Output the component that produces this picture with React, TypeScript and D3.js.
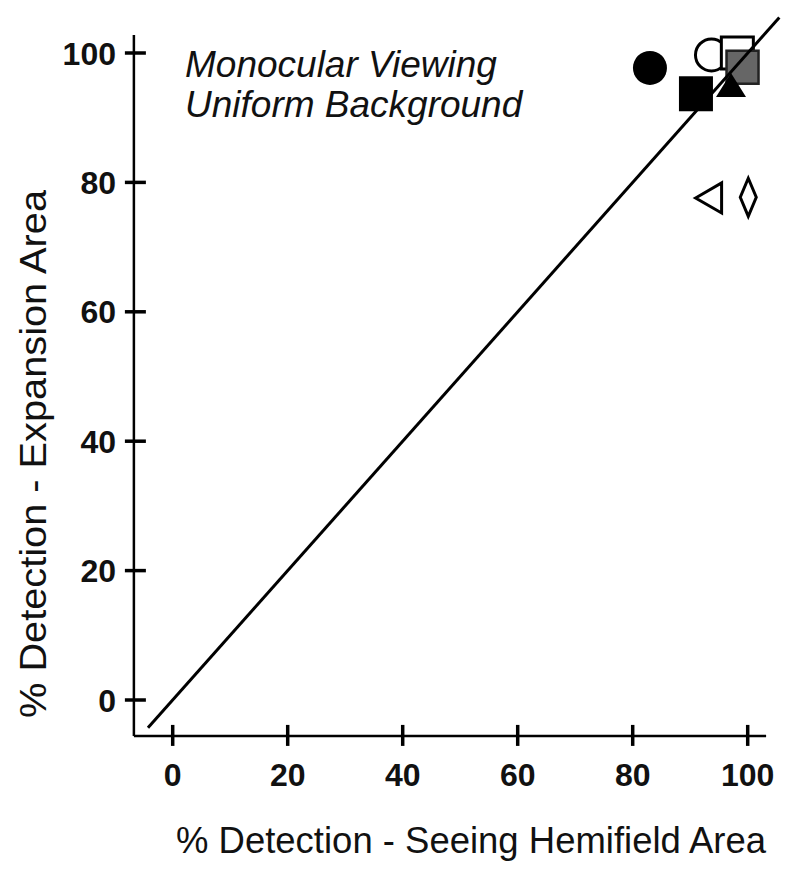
import React from "react";
import * as d3 from "d3";

const xTicks = [0, 20, 40, 60, 80, 100];
const yTicks = [0, 20, 40, 60, 80, 100];
const xDomainExtent = [-6.75, 103.2];
const yDomainExtent = [-5.55, 102.8];
const identityLine = [-4.3, 105.5];

const markerNames = ["filledCircle", "openCircle", "openSquare", "graySquare", "filledTriangle", "filledSquare", "openLeftTriangle", "openDiamond"];
const markerX = [83.0, 93.7, 98.2, 99.1, 97.1, 91.0, 93.2, 100.1];
const markerY = [97.7, 99.7, 100.0, 97.8, 94.6, 93.7, 77.6, 77.7];

const titleLines = ["Monocular Viewing", "Uniform Background"];
const xTitle = "% Detection - Seeing Hemifield Area";
const yTitle = "% Detection - Expansion Area";

export default function App() {
  const x = d3.scaleLinear().domain([0, 100]).range([172.7, 747.7]);
  const y = d3.scaleLinear().domain([0, 100]).range([700, 53]);
  const font = "'Liberation Sans', Arial, Helvetica, sans-serif";
  const axisY = y(yDomainExtent[0]);
  const axisX = x(xDomainExtent[0]);

  const marker = (name: string, cx: number, cy: number, key: number) => {
    switch (name) {
      case "filledCircle":
        return <circle key={key} cx={cx} cy={cy} r={17} fill="#000" />;
      case "openCircle":
        return <circle key={key} cx={cx} cy={cy} r={16} fill="#fff" stroke="#000" strokeWidth={3} />;
      case "openSquare":
        return <rect key={key} x={cx - 16} y={cy - 16} width={32} height={32} fill="#fff" stroke="#000" strokeWidth={3} />;
      case "graySquare":
        return <rect key={key} x={cx - 16} y={cy - 16.5} width={32} height={33} fill="#666" stroke="#222" strokeWidth={2.5} />;
      case "filledTriangle": {
        const p = d3.path();
        p.moveTo(cx, cy - 15);
        p.lineTo(cx + 15, cy + 9);
        p.lineTo(cx - 15, cy + 9);
        p.closePath();
        return <path key={key} d={p.toString()} fill="#000" />;
      }
      case "filledSquare":
        return <rect key={key} x={cx - 17} y={cy - 17.5} width={34} height={35} fill="#000" />;
      case "openLeftTriangle": {
        const p = d3.path();
        p.moveTo(cx - 13, cy);
        p.lineTo(cx + 13, cy - 15);
        p.lineTo(cx + 13, cy + 15);
        p.closePath();
        return <path key={key} d={p.toString()} fill="#fff" stroke="#000" strokeWidth={3} strokeLinejoin="miter" />;
      }
      case "openDiamond": {
        const p = d3.path();
        p.moveTo(cx, cy - 19);
        p.lineTo(cx + 8, cy);
        p.lineTo(cx, cy + 19);
        p.lineTo(cx - 8, cy);
        p.closePath();
        return <path key={key} d={p.toString()} fill="#fff" stroke="#000" strokeWidth={3} />;
      }
      default:
        return null;
    }
  };

  const yTitleCenter = (190 + 718) / 2;

  return (
    <svg width={800} height={880} style={{ position: "absolute", left: 0, top: 0, display: "block" }} fontFamily={font}>
      <rect width={800} height={880} fill="#fff" />
      {/* axes */}
      <line x1={axisX} x2={x(xDomainExtent[1])} y1={axisY} y2={axisY} stroke="#000" strokeWidth={2.5} />
      <line x1={axisX} x2={axisX} y1={y(yDomainExtent[1])} y2={axisY} stroke="#000" strokeWidth={2.5} />
      {xTicks.map((t) => (
        <g key={"xt" + t}>
          <line x1={x(t)} x2={x(t)} y1={axisY - 11} y2={axisY + 10} stroke="#000" strokeWidth={3.5} />
          <text x={x(t)} y={786} textAnchor="middle" fontSize={32} fontWeight="bold" fill="#111">{t}</text>
        </g>
      ))}
      {yTicks.map((t) => (
        <g key={"yt" + t}>
          <line x1={axisX - 9} x2={axisX + 12} y1={y(t)} y2={y(t)} stroke="#000" strokeWidth={3.5} />
          <text x={116} y={y(t)} dy="0.36em" textAnchor="end" fontSize={32} fontWeight="bold" fill="#111">{t}</text>
        </g>
      ))}
      {/* markers */}
      {markerNames.map((n, i) => marker(n, x(markerX[i]), y(markerY[i]), i))}
      {/* identity line */}
      <line x1={x(identityLine[0])} y1={y(identityLine[0])} x2={x(identityLine[1])} y2={y(identityLine[1])} stroke="#000" strokeWidth={3} />
      {/* title */}
      {titleLines.map((l, i) => (
        <text key={l} x={185} y={76.7 + i * 40.6} fontSize={37} fontStyle="italic" fill="#111">{l}</text>
      ))}
      <text x={176} y={853} fontSize={36.5} fill="#111" textLength={590} lengthAdjust="spacingAndGlyphs">{xTitle}</text>
      <text transform={`translate(46,${yTitleCenter}) rotate(-90)`} textAnchor="middle" fontSize={36} fill="#111" textLength={528} lengthAdjust="spacingAndGlyphs">{yTitle}</text>
    </svg>
  );
}
